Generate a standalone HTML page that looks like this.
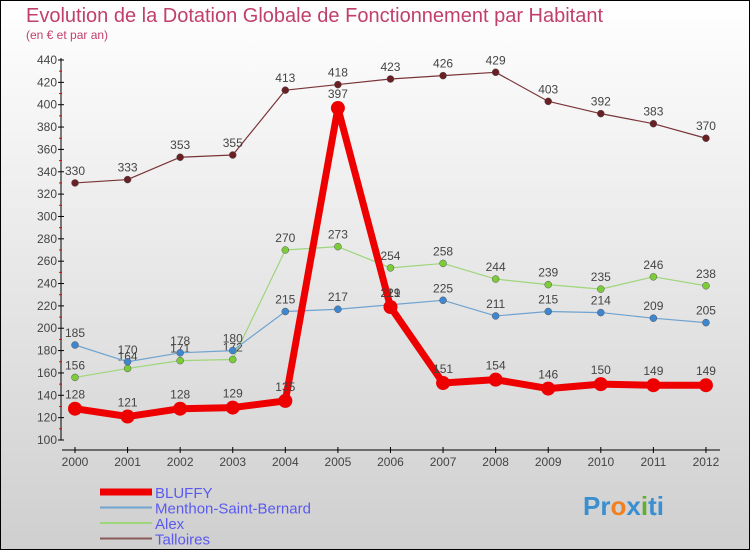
<!DOCTYPE html>
<html><head><meta charset="utf-8"><style>
html,body{margin:0;padding:0}
body{width:750px;height:550px;overflow:hidden;font-family:"Liberation Sans",sans-serif}
svg text{font-family:"Liberation Sans",sans-serif}
</style></head><body>
<svg id="chart" width="750" height="550" xmlns="http://www.w3.org/2000/svg">
<defs><linearGradient id="bg" x1="0" y1="0" x2="0" y2="1"><stop offset="0" stop-color="#ffffff"/><stop offset="1" stop-color="#cfcfcf"/></linearGradient></defs>
<rect x="0.5" y="0.5" width="749" height="549" fill="url(#bg)" stroke="#000"/>
<text x="26" y="22" font-size="20" fill="#c0406a">Evolution de la Dotation Globale de Fonctionnement par Habitant</text>
<text x="26" y="39" font-size="12" fill="#c0406a">(en € et par an)</text>
<g id="axes"></g><g id="series"></g><g id="legend"></g>
<text x="583" y="515" font-size="26" font-weight="bold" fill="#3a8fd0">Pr<tspan fill="#f08020">o</tspan><tspan fill="#3a8fd0">x</tspan><tspan fill="#60b030">i</tspan>ti</text>
</svg>
<script>
const years=[2000,2001,2002,2003,2004,2005,2006,2007,2008,2009,2010,2011,2012];
const bluffy=[128,121,128,129,135,397,219,151,154,146,150,149,149];
const menthon=[185,170,178,180,215,217,221,225,211,215,214,209,205];
const alex=[156,164,171,172,270,273,254,258,244,239,235,246,238];
const talloires=[330,333,353,355,413,418,423,426,429,403,392,383,370];
const yTicks=[100,120,140,160,180,200,220,240,260,280,300,320,340,360,380,400,420,440];
const NS="http://www.w3.org/2000/svg";
const X=i=>75+i*52.58;
const Y=v=>440-(v-100)*(380/340);
function mk(tag,attrs,parent,txt){const e=document.createElementNS(NS,tag);for(const k in attrs)e.setAttribute(k,attrs[k]);if(txt!==undefined)e.textContent=txt;parent.appendChild(e);return e;}
const ax=document.getElementById('axes');
let e=mk('line',{x1:61,y1:58,x2:61,y2:440,stroke:'#000'},ax);


e=mk('line',{x1:62,y1:450,x2:720,y2:450,stroke:'#000'},ax);


yTicks.forEach(v=>{
 mk('line',{x1:58,y1:Y(v),x2:64,y2:Y(v),stroke:'#000'},ax);
 if(v<440) mk('line',{x1:59,y1:Y(v+10),x2:62,y2:Y(v+10),stroke:'#e00'},ax);
 const t=mk('text',{x:57,y:Y(v)+4,'font-size':12,'text-anchor':'end',fill:'#444'},ax,v);
 
 
});
years.forEach((yr,i)=>{
 mk('line',{x1:X(i),y1:447,x2:X(i),y2:453,stroke:'#000'},ax);
 const t=mk('text',{x:X(i),y:466,'font-size':12,'text-anchor':'middle',fill:'#444'},ax,yr);
 
 
});
const sg=document.getElementById('series');
const defs=[
 {d:talloires,c:'#7a3438',pc:'#6a1f25',w:1.2,r:3.5,n:'talloires'},
 {d:alex,c:'#9ed67a',pc:'#7ccc3a',w:1.2,r:3.5,n:'alex'},
 {d:menthon,c:'#6fa3d0',pc:'#3f86d0',w:1.2,r:3.5,n:'menthon'},
 {d:bluffy,c:'#ee0000',pc:'#ee0000',w:7,r:7,n:'bluffy'}];
defs.forEach(s=>{
 const g=mk('g',{},sg);
 
 
 const p=mk('polyline',{points:s.d.map((v,i)=>X(i)+','+Y(v)).join(' '),fill:'none',stroke:s.c,'stroke-width':s.w,'stroke-linejoin':'round'},g);
 
 
 s.d.forEach((v,i)=>{
  const c=mk('circle',{cx:X(i),cy:Y(v),r:s.r,fill:s.pc,stroke:s.r>5?'none':'#555','stroke-width':0.5},g);
  
  
  const t=mk('text',{x:X(i),y:Y(v)-(s.r>5?10:8),'font-size':12,'text-anchor':'middle',fill:'#444'},g,v);
  
  
 });
});
const lg=document.getElementById('legend');
[['BLUFFY','#ee0000',7],['Menthon-Saint-Bernard','#6fa3d0',2],['Alex','#9ed67a',2],['Talloires','#8a5a5a',2]].forEach((L,i)=>{
 const y=492+i*15.5;
 const l=mk('line',{x1:100,y1:y,x2:152,y2:y,stroke:L[1],'stroke-width':L[2]},lg);
 
 
 const t=mk('text',{x:155,y:y+6,'font-size':15,fill:'#5a5af0'},lg,L[0]);
 
 
});
</script>
</body></html>
